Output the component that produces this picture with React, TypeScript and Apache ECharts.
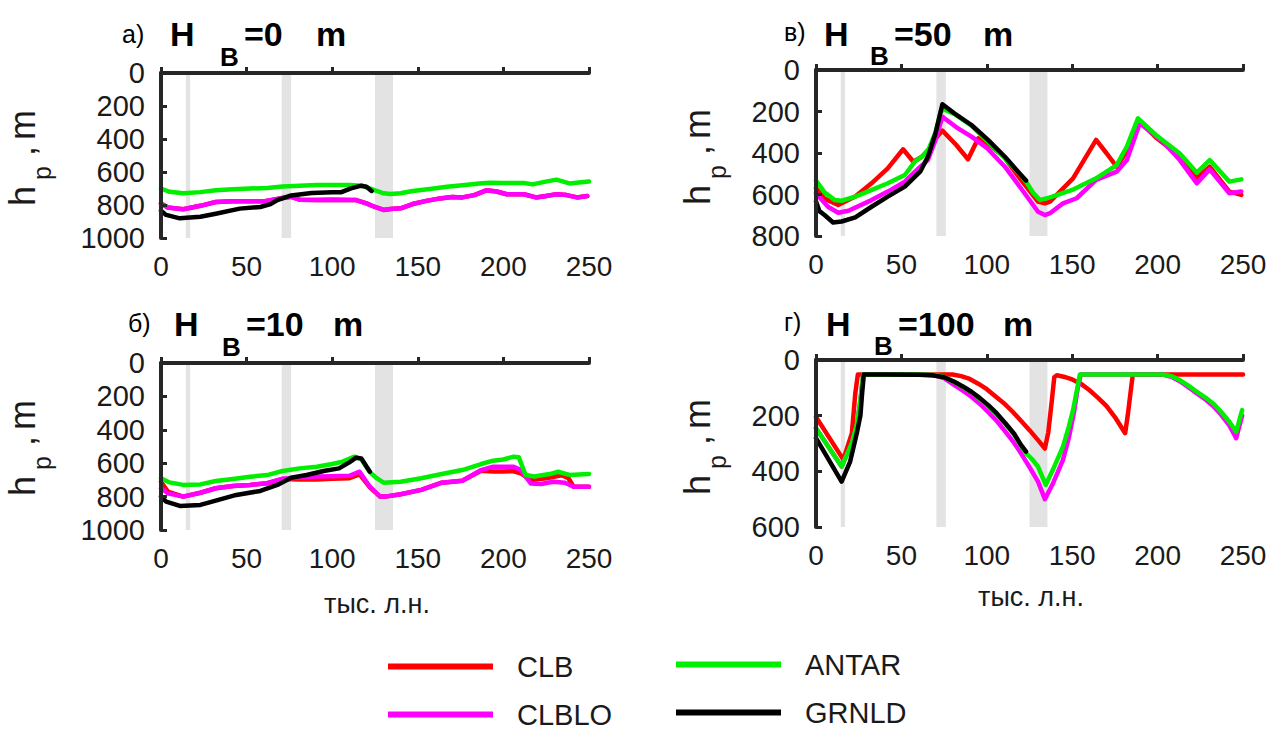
import React, { useEffect, useRef } from "react";
import * as echarts from "echarts";

const FONT = "'Liberation Sans', Arial, Helvetica, sans-serif";
const TEXT = "#1a1a1a";
const AXIS = "#262626";
const BAND = "#e3e3e3";

const SERIES_NAMES = ["CLB", "CLBLO", "ANTAR", "GRNLD"];
const SERIES_COLORS = ["#ff0000", "#ff00ff", "#00ee00", "#000000"];

// shaded intervals (thousand years BP)
const BANDS: [number, number][] = [
  [14.5, 17],
  [70.5, 76],
  [125, 135.5],
];

const X_MIN = 0;
const X_MAX = 250;
const X_STEP = 50;
const Y_STEP = 200;
const Y_MAX = [1000, 1000, 800, 600];

// ---------- Panel а) H_B = 0 m ----------
const A_X_CLBLO = [0, 4, 13, 23, 32, 42, 52, 60, 71, 76, 81, 91, 100, 110, 114, 120, 125, 130, 134, 140, 147, 155, 163, 170, 176, 183, 190, 196, 202, 212, 219, 225, 231, 237, 243, 249];
const A_Y_CLBLO = [790, 815, 826, 805, 782, 778, 778, 778, 757, 750, 768, 770, 768, 770, 770, 790, 812, 830, 824, 820, 794, 775, 760, 752, 754, 740, 711, 718, 735, 735, 754, 745, 735, 740, 754, 746];
const A_X_CLB = A_X_CLBLO;
const A_Y_CLB = A_Y_CLBLO;
const A_X_ANTAR = [0, 5, 13, 23, 32, 42, 52, 62, 71, 81, 91, 100, 110, 117, 122, 126, 130, 134, 140, 147, 157, 167, 176, 186, 192, 200, 206, 212, 217, 224, 231, 235, 239, 244, 250];
const A_Y_ANTAR = [700, 720, 729, 722, 710, 705, 700, 697, 688, 683, 679, 679, 679, 683, 699, 715, 729, 733, 729, 715, 703, 689, 680, 670, 665, 667, 667, 667, 675, 660, 646, 658, 670, 664, 658];
const A_X_GRNLD = [0, 3, 11, 23, 32, 46, 58, 64, 68, 76, 88, 100, 105, 111, 117, 120, 123];
const A_Y_GRNLD = [834, 860, 881, 871, 853, 822, 812, 795, 770, 742, 727, 723, 723, 699, 683, 689, 715];

// ---------- Panel б) H_B = 10 m ----------
const B_X_CLB = [0, 4, 13, 23, 32, 42, 52, 62, 71, 81, 91, 100, 110, 116, 122, 128, 131, 140, 152, 164, 176, 187, 194, 200, 206, 210, 216, 225, 234, 238, 241, 250];
const B_Y_CLB = [711, 770, 800, 777, 750, 736, 730, 720, 695, 697, 697, 693, 690, 667, 745, 800, 800, 786, 760, 717, 705, 645, 650, 649, 648, 660, 700, 690, 672, 690, 741, 741];
const B_X_CLBLO = [0, 4, 13, 23, 32, 42, 52, 62, 71, 81, 91, 100, 110, 116, 122, 128, 131, 140, 152, 164, 176, 187, 194, 200, 206, 210, 216, 222, 229, 236, 241, 250];
const B_Y_CLBLO = [750, 780, 800, 777, 750, 736, 730, 720, 693, 685, 680, 678, 675, 651, 741, 800, 800, 786, 760, 717, 705, 641, 621, 621, 621, 640, 721, 725, 711, 717, 741, 741];
const B_X_ANTAR = [0, 5, 13, 23, 32, 42, 52, 62, 71, 81, 91, 100, 106, 113, 117, 122, 126, 130, 140, 152, 164, 176, 187, 194, 200, 206, 209, 213, 218, 227, 232, 239, 244, 250];
const B_Y_ANTAR = [690, 715, 730, 727, 707, 695, 681, 671, 647, 631, 621, 605, 591, 561, 575, 653, 690, 717, 711, 690, 665, 641, 605, 585, 578, 561, 565, 671, 680, 665, 651, 671, 667, 665];
const B_X_GRNLD = [0, 3, 11, 23, 32, 44, 58, 68, 76, 85, 95, 104, 110, 114, 117, 120, 122];
const B_Y_GRNLD = [800, 830, 856, 850, 824, 790, 766, 730, 687, 671, 647, 631, 595, 567, 571, 620, 651];

// ---------- Panel в) H_B = 50 m ----------
const C_X_CLB = [0, 5, 13, 23, 32.5, 42, 51, 57, 62, 66, 70, 74, 82, 89, 95, 100, 110, 120, 130, 134, 137, 150.5, 164, 170, 176, 182, 189.6, 199, 213, 223, 230.5, 242, 249];
const C_Y_CLB = [570, 620, 651, 610, 546, 474, 382, 442, 418, 385, 330, 292, 360, 430, 329, 350, 418, 530, 634, 643, 634, 522, 337, 400, 466, 390, 249, 325, 415, 520, 466, 586, 602];
const C_X_CLBLO = [0, 7, 13, 19, 32.5, 42, 52, 60, 65.5, 70, 74, 82, 91, 100, 110.6, 120, 130, 134, 137, 144.6, 152.6, 164, 176, 182, 189.6, 203, 213, 223, 230.5, 242, 249];
const C_Y_CLBLO = [594, 659, 688, 678, 627, 586, 538, 474, 434, 337, 225, 275, 321, 375, 466, 570, 683, 699, 690, 643, 618, 530, 490, 434, 257, 345, 434, 546, 479, 594, 586];
const C_X_ANTAR = [0, 5, 11, 15, 23, 32, 42, 52, 58, 62, 66, 70, 73, 75, 81, 91, 100, 110, 120, 123, 127, 131, 137, 150, 164, 176, 182, 188.5, 199, 213, 223, 230.5, 242, 249];
const C_Y_ANTAR = [533, 590, 627, 630, 610, 580, 546, 506, 440, 418, 380, 300, 200, 190, 212, 268, 340, 420, 508, 538, 590, 627, 614, 578, 522, 458, 369, 233, 313, 402, 495, 434, 538, 527];
const C_X_GRNLD = [0, 2, 5, 10, 15, 23, 32.5, 42, 52, 61, 65.5, 70, 74, 81, 91, 100.7, 110.6, 120, 123];
const C_Y_GRNLD = [634, 680, 699, 735, 730, 710, 659, 610, 562, 490, 418, 305, 165, 209, 265, 337, 418, 506, 533];

// ---------- Panel г) H_B = 100 m ----------
const D_X_CLB = [0, 16, 21, 23, 24.5, 40, 60, 80, 85, 90, 95, 100, 105, 110, 115, 120, 125, 130, 134, 136, 138, 139.5, 141, 145, 150, 155, 160, 165, 170, 175, 181, 182.5, 184.5, 185.5, 200, 250];
const D_Y_CLB = [205, 358, 263, 120, 52, 52, 52, 52, 58, 68, 85, 105, 130, 155, 185, 218, 252, 288, 318, 260, 150, 62, 55, 60, 70, 85, 108, 135, 165, 205, 263, 200, 100, 52, 52, 52];
const D_X_CLBLO = [0, 15, 21, 24, 26, 27.6, 40, 60, 70, 75, 81, 86, 91, 96, 101, 106, 111, 116, 120, 125, 130, 134, 139, 144.6, 148, 151, 153, 155, 170, 190, 203, 208, 213, 218, 223, 228, 232.5, 237, 242, 246, 249.5];
const D_Y_CLBLO = [245, 383, 299, 230, 144, 52, 52, 52, 56, 65, 90, 110, 132, 158, 188, 220, 258, 298, 335, 385, 437, 500, 440, 359, 280, 190, 110, 52, 52, 52, 52, 60, 76, 98, 120, 142, 165, 195, 235, 281, 200];
const D_X_ANTAR = [0, 15, 21, 24, 26, 27.6, 40, 60, 70, 75, 81, 91, 101, 111, 116, 120, 123, 127, 130, 134.5, 139, 144.6, 148, 150.5, 153, 154.5, 170, 190, 203, 208, 213, 218, 223, 228, 232.5, 237, 242, 246, 249.5];
const D_Y_ANTAR = [245, 383, 299, 230, 144, 52, 52, 52, 54, 61, 79, 115, 165, 230, 268, 308, 335, 360, 383, 449, 390, 311, 240, 180, 100, 52, 52, 52, 52, 58, 72, 92, 114, 135, 156, 185, 222, 258, 180];
const D_X_GRNLD = [0, 15, 20, 24, 26, 27, 28, 40, 60, 68, 75, 81, 86, 91, 96, 101, 106, 111, 116, 120, 123];
const D_Y_GRNLD = [281, 437, 365, 260, 200, 120, 52, 52, 53, 55, 62, 78, 95, 114, 137, 163, 193, 228, 265, 305, 329];

const PANEL_DATA = [
  [[A_X_CLB, A_Y_CLB], [A_X_CLBLO, A_Y_CLBLO], [A_X_ANTAR, A_Y_ANTAR], [A_X_GRNLD, A_Y_GRNLD]],
  [[B_X_CLB, B_Y_CLB], [B_X_CLBLO, B_Y_CLBLO], [B_X_ANTAR, B_Y_ANTAR], [B_X_GRNLD, B_Y_GRNLD]],
  [[C_X_CLB, C_Y_CLB], [C_X_CLBLO, C_Y_CLBLO], [C_X_ANTAR, C_Y_ANTAR], [C_X_GRNLD, C_Y_GRNLD]],
  [[D_X_CLB, D_Y_CLB], [D_X_CLBLO, D_Y_CLBLO], [D_X_ANTAR, D_Y_ANTAR], [D_X_GRNLD, D_Y_GRNLD]],
];

const PANEL_LETTERS = ["а)", "б)", "в)", "г)"];
const PANEL_VALUES = ["=0", "=10", "=50", "=100"];
const X_NAME = "тыс. л.н.";

// layout (pixels)
const GRIDS = [
  { left: 161, top: 73, width: 428, height: 165 },
  { left: 161, top: 363, width: 428, height: 167 },
  { left: 816, top: 70, width: 427, height: 166 },
  { left: 816, top: 360, width: 427, height: 167 },
];
const TITLE_POS = [
  { letter: [122, 34], H: [170, 34], B: [220, 57], val: [244, 34], m: [316, 34] },
  { letter: [128, 323], H: [174, 324], B: [222, 347], val: [246, 324], m: [333, 324] },
  { letter: [784, 32], H: [824, 34], B: [870, 56], val: [894, 34], m: [983, 34] },
  { letter: [784, 322], H: [826, 324], B: [874, 346], val: [898, 324], m: [1003, 324] },
];
const YNAME_POS = [
  [22, 206],
  [22, 496],
  [697, 205],
  [697, 495],
];
// legend entries: left, top of each single-item legend
const LEGEND_POS = [
  [388, 652],
  [388, 700],
  [676, 650],
  [676, 698],
];

function zip(xs: number[], ys: number[]) {
  return xs.map((x, i) => [x, ys[i]]);
}

function buildOption() {
  const grid = GRIDS.map((g) => ({ ...g, containLabel: false, outerBoundsMode: "none" }));
  const xAxis = GRIDS.map((_, i) => ({
    type: "value",
    gridIndex: i,
    min: X_MIN,
    max: X_MAX,
    interval: X_STEP,
    z: 10,
    axisLine: { show: true, lineStyle: { color: AXIS, width: 4 } },
    axisTick: { show: true, inside: true, length: 6, lineStyle: { color: AXIS, width: 3 } },
    splitLine: { show: false },
    axisLabel: { fontSize: 28, color: TEXT, fontFamily: FONT, margin: 14, showMinLabel: true, showMaxLabel: true, formatter: (v: number) => String(v) },
  }));
  const yAxis = GRIDS.map((_, i) => ({
    type: "value",
    gridIndex: i,
    min: 0,
    max: Y_MAX[i],
    interval: Y_STEP,
    inverse: true,
    z: 10,
    axisLine: { show: true, lineStyle: { color: AXIS, width: 4 } },
    axisTick: { show: true, inside: true, length: 6, lineStyle: { color: AXIS, width: 3 } },
    splitLine: { show: false },
    axisLabel: { fontSize: 29, color: TEXT, fontFamily: FONT, margin: 16, showMinLabel: true, showMaxLabel: true, formatter: (v: number) => String(v) },
  }));

  const series: any[] = [];
  PANEL_DATA.forEach((panel, i) => {
    series.push({
      type: "line",
      name: "bands",
      xAxisIndex: i,
      yAxisIndex: i,
      data: [],
      silent: true,
      z: 1,
      markArea: {
        silent: true,
        itemStyle: { color: BAND },
        data: BANDS.map((b) => [{ xAxis: b[0] }, { xAxis: b[1] }]),
      },
    });
    panel.forEach(([xs, ys], k) => {
      series.push({
        type: "line",
        name: SERIES_NAMES[k],
        xAxisIndex: i,
        yAxisIndex: i,
        data: zip(xs, ys),
        showSymbol: false,
        symbol: "none",
        color: SERIES_COLORS[k],
        itemStyle: { color: SERIES_COLORS[k] },
        lineStyle: { color: SERIES_COLORS[k], width: 4.5, join: "round", cap: "round" },
        z: 3 + k,
        silent: true,
      });
    });
  });

  const graphic: any[] = [];
  TITLE_POS.forEach((p, i) => {
    const bold = { fontFamily: FONT, fontWeight: "bold", fill: "#000", verticalAlign: "middle", align: "left" };
    graphic.push({ type: "text", x: p.letter[0], y: p.letter[1], style: { text: PANEL_LETTERS[i], fontSize: 25, fontFamily: FONT, fill: "#000", verticalAlign: "middle", align: "left" } });
    graphic.push({ type: "text", x: p.H[0], y: p.H[1], style: { ...bold, text: "H", fontSize: 34 } });
    graphic.push({ type: "text", x: p.B[0], y: p.B[1], style: { ...bold, text: "B", fontSize: 26 } });
    graphic.push({ type: "text", x: p.val[0], y: p.val[1], style: { ...bold, text: PANEL_VALUES[i], fontSize: 34 } });
    graphic.push({ type: "text", x: p.m[0], y: p.m[1], style: { ...bold, text: "m", fontSize: 34 } });
  });
  YNAME_POS.forEach(([x, y]) => {
    const st = { fontFamily: FONT, fill: TEXT, verticalAlign: "middle", align: "left" };
    graphic.push({
      type: "group",
      x,
      y,
      rotation: Math.PI / 2,
      children: [
        { type: "text", x: 0, y: 0, style: { ...st, text: "h", fontSize: 36 } },
        { type: "text", x: 26, y: 20, style: { ...st, text: "p", fontSize: 25 } },
        { type: "text", x: 50, y: 0, style: { ...st, text: ",", fontSize: 36 } },
        { type: "text", x: 66, y: 0, style: { ...st, text: "m", fontSize: 36 } },
      ],
    });
  });
  graphic.push({ type: "text", x: 377, y: 604, style: { text: X_NAME, fontSize: 27, fontFamily: FONT, fill: TEXT, align: "center", verticalAlign: "middle" } });
  graphic.push({ type: "text", x: 1031, y: 597, style: { text: X_NAME, fontSize: 27, fontFamily: FONT, fill: TEXT, align: "center", verticalAlign: "middle" } });

  const legend = SERIES_NAMES.map((name, k) => ({
    data: [name],
    orient: "horizontal",
    left: LEGEND_POS[k][0],
    top: LEGEND_POS[k][1],
    itemWidth: 105,
    itemHeight: 6,
    icon: "rect",
    padding: 0,
    selectedMode: false,
    textStyle: { fontSize: 29, lineHeight: 26, fontFamily: FONT, color: TEXT, padding: [0, 0, 0, 19] },
  }));

  return {
    animation: false,
    backgroundColor: "#ffffff",
    grid,
    xAxis,
    yAxis,
    series,
    graphic,
    legend,
  };
}

export default function App() {
  const ref = useRef<HTMLDivElement>(null);
  useEffect(() => {
    if (!ref.current) return;
    const chart = echarts.init(ref.current, null, { renderer: "svg" });
    chart.setOption(buildOption() as any);
    return () => chart.dispose();
  }, []);
  return (
    <div
      ref={ref}
      style={{ position: "fixed", left: 0, top: 0, width: 1266, height: 733, background: "#fff" }}
    />
  );
}
